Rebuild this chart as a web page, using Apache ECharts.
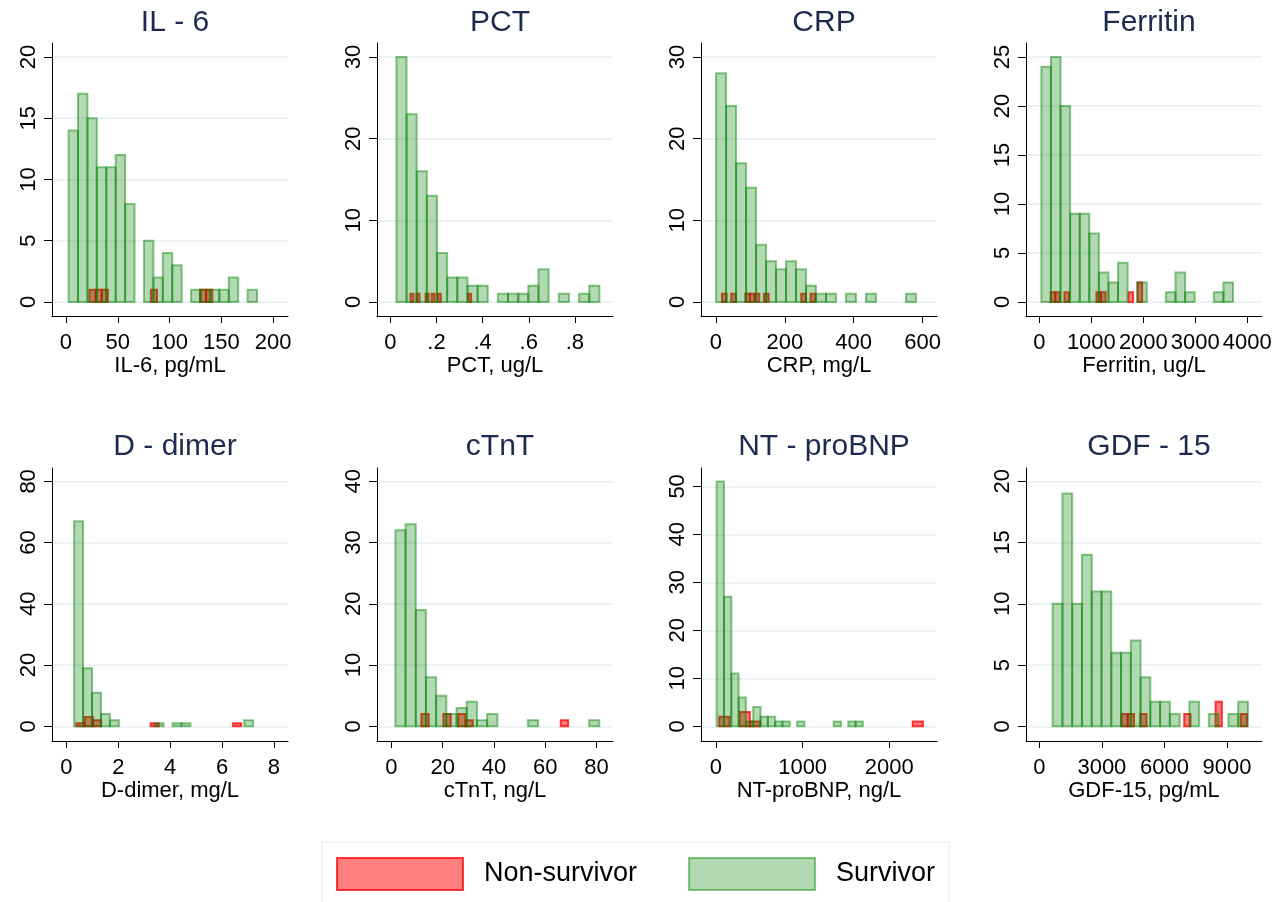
<!DOCTYPE html>
<html>
<head>
<meta charset="utf-8">
<script src="https://cdn.jsdelivr.net/npm/echarts@6/dist/echarts.min.js"></script>
<style>
html, body { margin: 0; padding: 0; background: #fff; }
#chart { width: 1277px; height: 902px; }
</style>
</head>
<body>
<div id="chart"></div>
<script>
// panels, left to right, top to bottom
var titles = ['IL - 6', 'PCT', 'CRP', 'Ferritin', 'D - dimer', 'cTnT', 'NT - proBNP', 'GDF - 15'];
var xNames = ['IL-6, pg/mL', 'PCT, ug/L', 'CRP, mg/L', 'Ferritin, ug/L', 'D-dimer, mg/L', 'cTnT, ng/L', 'NT-proBNP, ng/L', 'GDF-15, pg/mL'];
var xTicks = [
    [0, 50, 100, 150, 200], [0, 0.2, 0.4, 0.6, 0.8], [0, 200, 400, 600], [0, 1000, 2000, 3000, 4000],
    [0, 2, 4, 6, 8], [0, 20, 40, 60, 80], [0, 1000, 2000], [0, 3000, 6000, 9000]
];
var yTicks = [
    [0, 5, 10, 15, 20], [0, 10, 20, 30], [0, 10, 20, 30], [0, 5, 10, 15, 20, 25],
    [0, 20, 40, 60, 80], [0, 10, 20, 30, 40], [0, 10, 20, 30, 40, 50], [0, 5, 10, 15, 20]
];

// histogram bins: 20 bins per group, first edge + bin width
var survStart = [2.5, 0.026, 0.3, 38.5, 0.297, 1.56, 7.7, 640];
var survWidth = [9.1, 0.044, 29.03, 184.3, 0.345, 3.974, 84.4, 468.4];
var survCounts = [
    [14, 17, 15, 11, 11, 12, 8, 0, 5, 2, 4, 3, 0, 1, 1, 1, 1, 2, 0, 1],
    [30, 23, 16, 13, 6, 3, 3, 2, 2, 0, 1, 1, 1, 2, 4, 0, 1, 0, 1, 2],
    [28, 24, 17, 14, 7, 5, 4, 5, 4, 2, 1, 1, 0, 1, 0, 1, 0, 0, 0, 1],
    [24, 25, 20, 9, 9, 7, 3, 2, 4, 0, 2, 0, 0, 1, 3, 1, 0, 0, 1, 2],
    [67, 19, 11, 4, 2, 0, 0, 0, 0, 1, 0, 1, 1, 0, 0, 0, 0, 0, 0, 2],
    [32, 33, 19, 8, 5, 2, 3, 4, 1, 2, 0, 0, 0, 1, 0, 0, 0, 0, 0, 1],
    [51, 27, 11, 6, 1, 4, 2, 2, 1, 1, 0, 1, 0, 0, 0, 0, 1, 0, 1, 1],
    [10, 19, 10, 14, 11, 11, 6, 6, 7, 4, 2, 2, 1, 0, 2, 0, 1, 0, 1, 2]
];
var nonStart = [22.7, 0.0868, 17.4, 218, 0.387, 11.7, 38.5, 3940];
var nonWidth = [5.93, 0.01316, 13.55, 88, 0.3174, 2.86, 117.5, 301];
var nonCounts = [
    [1, 1, 1, 0, 0, 0, 0, 0, 0, 0, 1, 0, 0, 0, 0, 0, 0, 0, 1, 1],
    [1, 0, 1, 0, 0, 1, 0, 1, 0, 1, 0, 0, 0, 0, 0, 0, 0, 0, 0, 1],
    [1, 0, 1, 0, 0, 1, 1, 1, 0, 1, 0, 0, 0, 0, 0, 0, 0, 1, 0, 1],
    [1, 1, 0, 1, 0, 0, 0, 0, 0, 0, 1, 1, 0, 0, 0, 0, 0, 1, 0, 2],
    [1, 3, 2, 0, 0, 0, 0, 0, 0, 1, 0, 0, 0, 0, 0, 0, 0, 0, 0, 1],
    [2, 0, 0, 2, 0, 2, 1, 0, 0, 0, 0, 0, 0, 0, 0, 0, 0, 0, 0, 1],
    [2, 0, 3, 1, 0, 0, 0, 0, 0, 0, 0, 0, 0, 0, 0, 0, 0, 0, 0, 1],
    [1, 1, 0, 1, 0, 0, 0, 0, 0, 0, 1, 0, 0, 0, 0, 2, 0, 0, 0, 1]
];

// axis extents (plot region margins like Stata)
var xRange = [[-13.5, 214.4], [-0.058, 0.965], [-43.5, 642], [-257, 4282],
    [-0.555, 8.54], [-5.6, 86.4], [-173, 2551], [-640, 10681]];
var yRange = [[-1.144, 21.14], [-1.72, 31.72], [-1.72, 31.72], [-1.43, 26.43],
    [-4.8, 84.37], [-2.4, 42.18], [-3.06, 53.83], [-1.2, 21.09]];

var colLeft = [52, 377, 701, 1026];
var rowTop = [43, 468];
var plotW = 236, plotH = 273;

var FONT = 'Liberation Sans, Arial, sans-serif';
var RED_FILL = 'rgba(255,0,0,0.5)', RED_LINE = 'rgba(255,0,0,0.75)';
var GREEN_FILL = 'rgba(0,128,0,0.3)', GREEN_LINE = 'rgba(0,128,0,0.45)';

function bins(start, width, counts) {
    var out = [];
    counts.forEach(function (c, i) {
        if (c > 0) out.push([start + i * width, start + (i + 1) * width, c]);
    });
    return out;
}

function barItem(fill, line) {
    return function (params, api) {
        var p0 = api.coord([api.value(0), api.value(2)]);
        var p1 = api.coord([api.value(1), 0]);
        return {
            type: 'rect',
            shape: { x: p0[0], y: p0[1], width: p1[0] - p0[0], height: p1[1] - p0[1] },
            style: { fill: fill, stroke: line, lineWidth: 2 }
        };
    };
}

function fmtTick(v) {
    var s = String(v);
    return s.indexOf('0.') === 0 ? s.slice(1) : s;
}

var grid = [], xAxis = [], yAxis = [], series = [], title = [];
for (var i = 0; i < 8; i++) {
    var col = i % 4, row = Math.floor(i / 4);
    grid.push({ left: colLeft[col], top: rowTop[row], width: plotW, height: plotH });
    title.push({
        text: titles[i], left: colLeft[col] + plotW / 2, top: row === 0 ? 3 : 427, textAlign: 'center',
        textStyle: { fontFamily: FONT, fontSize: 30, fontWeight: 'normal', color: '#1c2b4f' }
    });
    xAxis.push({
        type: 'value', gridIndex: i, min: xRange[i][0], max: xRange[i][1],
        name: xNames[i], nameLocation: 'middle', nameGap: 38,
        nameTextStyle: { fontFamily: FONT, fontSize: 22, color: '#000' },
        axisLine: { show: true, onZero: false, lineStyle: { color: '#000', width: 1 } },
        axisTick: { show: true, length: 7, customValues: xTicks[i], lineStyle: { color: '#000' } },
        axisLabel: { customValues: xTicks[i], margin: 16, fontFamily: FONT, fontSize: 22, color: '#000', formatter: fmtTick },
        splitLine: { show: false }
    });
    yAxis.push({
        type: 'value', gridIndex: i, min: yRange[i][0], max: yRange[i][1],
        axisLine: { show: true, onZero: false, lineStyle: { color: '#000', width: 1 } },
        axisTick: { show: true, length: 8, customValues: yTicks[i], lineStyle: { color: '#000' } },
        axisLabel: { customValues: yTicks[i], rotate: 90, margin: 12, fontFamily: FONT, fontSize: 22, color: '#000' },
        splitLine: { show: true, lineStyle: { color: '#e6eff2', width: 1.5 } }
    });
    series.push({
        type: 'custom', name: 'Non-survivor', xAxisIndex: i, yAxisIndex: i,
        renderItem: barItem(RED_FILL, RED_LINE), encode: { x: [0, 1], y: 2 },
        itemStyle: { color: RED_FILL },
        data: bins(nonStart[i], nonWidth[i], nonCounts[i])
    });
    series.push({
        type: 'custom', name: 'Survivor', xAxisIndex: i, yAxisIndex: i,
        renderItem: barItem(GREEN_FILL, GREEN_LINE), encode: { x: [0, 1], y: 2 },
        itemStyle: { color: GREEN_FILL },
        data: bins(survStart[i], survWidth[i], survCounts[i])
    });
}

var chart = echarts.init(document.getElementById('chart'), null, { renderer: 'canvas' });
chart.setOption({
    backgroundColor: '#fff',
    animation: false,
    title: title,
    grid: grid,
    xAxis: xAxis,
    yAxis: yAxis,
    legend: {
        left: 322, top: 842,
        padding: [15, 14, 15, 14],
        borderColor: '#e3ebee', borderWidth: 1,
        itemWidth: 126, itemHeight: 32, itemGap: 51,
        textStyle: { fontFamily: FONT, fontSize: 27, color: '#000', padding: [0, 0, 0, 16] },
        data: [
            { name: 'Non-survivor', icon: 'rect', itemStyle: { color: RED_FILL, borderColor: RED_LINE, borderWidth: 2 } },
            { name: 'Survivor', icon: 'rect', itemStyle: { color: GREEN_FILL, borderColor: GREEN_LINE, borderWidth: 2 } }
        ]
    },
    series: series
});
</script>
</body>
</html>
